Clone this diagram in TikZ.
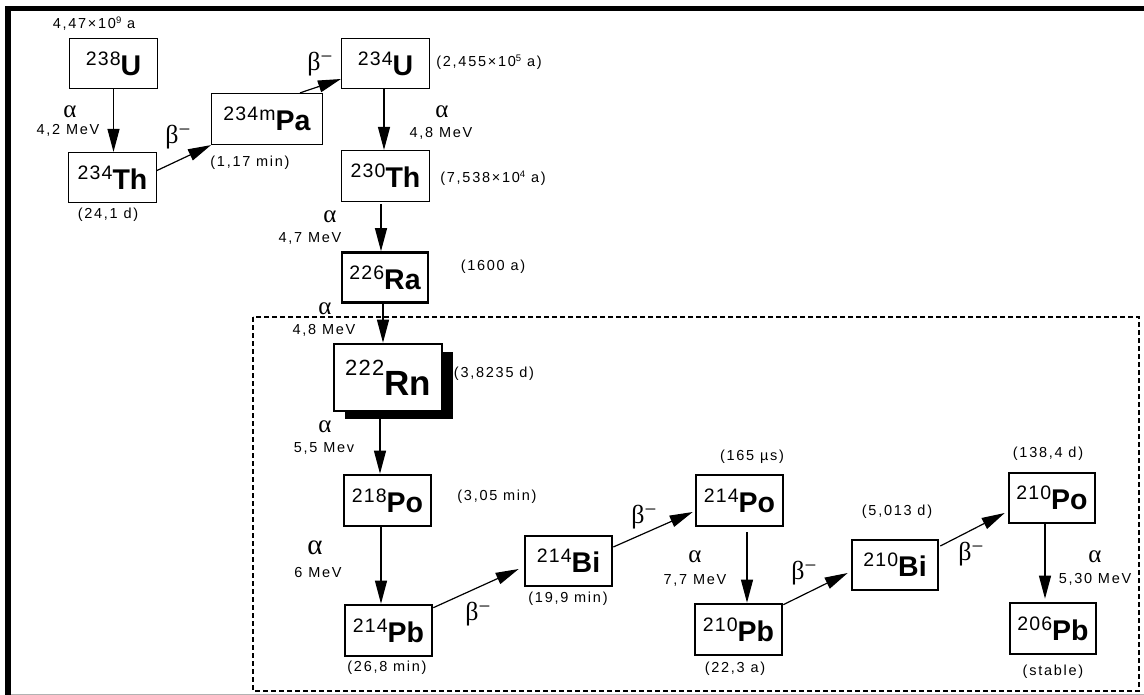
\documentclass[tikz,border=0pt]{standalone}
\usepackage{fontspec}
\setmainfont{Liberation Sans}
\newfontfamily\grkfont{Liberation Serif}
\newfontfamily\lblfont[LetterSpace=12]{Liberation Sans}
\newfontfamily\numfont[LetterSpace=6]{Liberation Sans}
\usetikzlibrary{arrows.meta,calc,shadows}
\newcommand{\nuc}[2]{{\numfont\fontsize{19.5}{19.5}\selectfont\raisebox{10pt}{#1}}{\fontsize{28.5}{28.5}\selectfont\bfseries #2}}
\newcommand{\nucbig}[2]{{\numfont\fontsize{22}{22}\selectfont\raisebox{20pt}{#1}}{\fontsize{35}{35}\selectfont\bfseries #2}}
\newcommand{\sm}{\lblfont\fontsize{14.5}{16}\selectfont}
\newcommand{\bmin}{β\raisebox{7pt}{\fontsize{21}{21}\selectfont −}}
\newcommand{\supr}[1]{\raisebox{5pt}{\fontsize{9.5}{9.5}\selectfont #1}}
\tikzset{
  x=1pt, y=-1pt,
  thinbox/.style={draw, line width=1.2pt, inner sep=0pt, fill=white, minimum width=87.8pt, minimum height=50pt},
  thickbox/.style={draw, line width=2.6pt, inner sep=0pt, fill=white, minimum width=86pt, minimum height=50pt},
  lbl/.style={inner sep=0pt, font=\sm},
  glbl/.style={inner sep=0pt, font=\grkfont\fontsize{25}{25}\selectfont},
  blbl/.style={inner sep=0pt, font=\grkfont\fontsize{26}{26}\selectfont},
  arr/.style={-{Triangle[length=23pt,width=12pt]}, line width=1.2pt},
}
\begin{document}
\begin{tikzpicture}
\useasboundingbox (0,0) rectangle (1144,695);
% outer frame
\draw[line width=5.5pt] (8,695) -- (8,8.7) -- (1144,8.7);
\draw[gray!60, line width=0.8pt] (11,694.4) -- (1144,694.4);
% dashed region
\draw[line width=1.2pt, dash pattern=on 5pt off 3pt] (253,317) rectangle (1139,691);

% boxes
\node[thinbox] (U238) at (113.5,63.5) {\nuc{238}{U}};
\node[thinbox] (Th234) at (112.5,177.5) {\nuc{234}{Th}};
\node[thinbox, minimum width=110.8pt, minimum height=51pt] (Pa) at (267,119) {\nuc{234m}{Pa}};
\node[thinbox] (U234) at (385.5,63.5) {\nuc{234}{U}};
\node[thinbox, minimum height=51pt] (Th230) at (385.5,176) {\nuc{230}{Th}};
\node[thickbox] (Ra) at (385,277.5) {\nuc{226}{Ra}};
\node[thickbox, minimum width=108pt, minimum height=67pt,
      drop shadow={shadow xshift=11pt, shadow yshift=-8pt, opacity=1, fill=black}] (Rn) at (388,377.5) {\nucbig{222}{Rn}};
\node[thickbox, minimum width=87pt, minimum height=51pt] (Po218) at (387.5,500.5) {\nuc{218}{Po}};
\node[thickbox, minimum width=87pt, minimum height=51pt] (Pb214) at (388.5,630.5) {\nuc{214}{Pb}};
\node[thickbox, minimum width=87pt] (Bi214) at (568.5,561) {\nuc{214}{Bi}};
\node[thickbox, minimum width=87pt, minimum height=51pt] (Po214) at (739.5,500.5) {\nuc{214}{Po}};
\node[thickbox, minimum width=87pt, minimum height=51pt] (Pb210) at (738.5,629.5) {\nuc{210}{Pb}};
\node[thickbox] (Bi210) at (895,565) {\nuc{210}{Bi}};
\node[thickbox] (Po210) at (1052,498) {\nuc{210}{Po}};
\node[thickbox, minimum height=51pt] (Pb206) at (1053,628.5) {\nuc{206}{Pb}};

% connectors
\draw[arr] (U238.south) -- (U238.south |- Th234.north);
\draw[arr] ($(Th234.east)+(0,-7)$) -- (Pa.south west);
\draw[arr] ($(Pa.north)+(33,0)$) -- ($(U234.west)+(0,15.5)$);
\coordinate (c4) at ($(U234.south)+(-1.5,0)$);
\draw[arr] (c4) -- (c4 |- Th230.north);
\coordinate (c5) at ($(Th230.south)+(-4.5,2)$);
\draw[arr] (c5) -- (c5 |- Ra.north);
\coordinate (c6) at ($(Ra.south)+(-2,0)$);
\draw[arr] (c6) -- (c6 |- Rn.north);
\coordinate (c7) at ($(Rn.south)+(-8,0)$);
\draw[arr] (c7) -- (c7 |- Po218.north);
\coordinate (c8) at ($(Po218.south)+(-6.5,0)$);
\draw[arr] (c8) -- (c8 |- Pb214.north);
\draw[arr] ($(Pb214.north east)+(0,4)$) -- ($(Bi214.west)+(-5,8)$);
\draw[arr] ($(Bi214.east)+(0,-14)$) -- ($(Po214.west)+(-2,11.5)$);
\coordinate (c11) at ($(Po214.south)+(7.5,5)$);
\draw[arr] (c11) -- (c11 |- Pb210.north);
\draw[arr] ($(Pb210.north east)+(0,2)$) -- ($(Bi210.west)+(-3,8)$);
\draw[arr] ($(Bi210.east)+(1,-19)$) -- ($(Po210.west)+(-3,15)$);
\coordinate (c14) at ($(Po210.south)+(-7,0)$);
\draw[arr] (c14) -- ($(c14 |- Pb206.north)+(0,-3)$);

% labels
\node[lbl] (tU238) at (94,24) {4,47×10\supr{9} a};
\node[glbl] (aU238) at (70,112) {α};
\node[lbl] (eU238) at (68,130) {4,2 MeV};
\node[lbl] (tTh234) at (108,215) {(24,1 d)};
\node[blbl] (bTh234) at (178,137) {\bmin};
\node[lbl] (tPa) at (250,163) {(1,17 min)};
\node[blbl] (bPa) at (320,64) {\bmin};
\node[lbl] (tU234) at (489,62) {(2,455×10\supr{5} a)};
\node[glbl] (aU234) at (442,112) {α};
\node[lbl] (eU234) at (441,133) {4,8 MeV};
\node[lbl] (tTh230) at (493,178) {(7,538×10\supr{4} a)};
\node[glbl] (aTh230) at (330,217) {α};
\node[lbl] (eTh230) at (310,238) {4,7 MeV};
\node[lbl] (tRa) at (493,267) {(1600 a)};
\node[glbl] (aRa) at (325,309) {α};
\node[lbl] (eRa) at (324,330) {4,8 MeV};
\node[lbl] (tRn) at (494,374) {(3,8235 d)};
\node[glbl] (aRn) at (325,427) {α};
\node[lbl] (eRn) at (324,448) {5,5 Mev};
\node[lbl] (tPo218) at (497,497) {(3,05 min)};
\node[glbl, font=\grkfont\fontsize{29}{29}\selectfont] (aPo218) at (315,548) {α};
\node[lbl] (ePo218) at (318,573) {6 MeV};
\node[lbl] (tPb214) at (387,668) {(26,8 min)};
\node[blbl] (bPb214) at (478,614) {\bmin};
\node[lbl] (tBi214) at (568,599) {(19,9 min)};
\node[blbl] (bBi214) at (644,517) {\bmin};
\node[lbl] (tPo214) at (752,457) {(165 µs)};
\node[glbl] (aPo214) at (695,557) {α};
\node[lbl] (ePo214) at (695,580) {7,7 MeV};
\node[lbl] (tPb210) at (735,669) {(22,3 a)};
\node[blbl] (bPb210) at (804,573) {\bmin};
\node[lbl] (tBi210) at (897,512) {(5,013 d)};
\node[blbl] (bBi210) at (971,554) {\bmin};
\node[lbl] (tPo210) at (1048,454) {(138,4 d)};
\node[glbl] (aPo210) at (1095,557) {α};
\node[lbl] (ePo210) at (1095,579) {5,30 MeV};
\node[lbl] (tPb206) at (1053,672) {(stable)};
\end{tikzpicture}
\end{document}
